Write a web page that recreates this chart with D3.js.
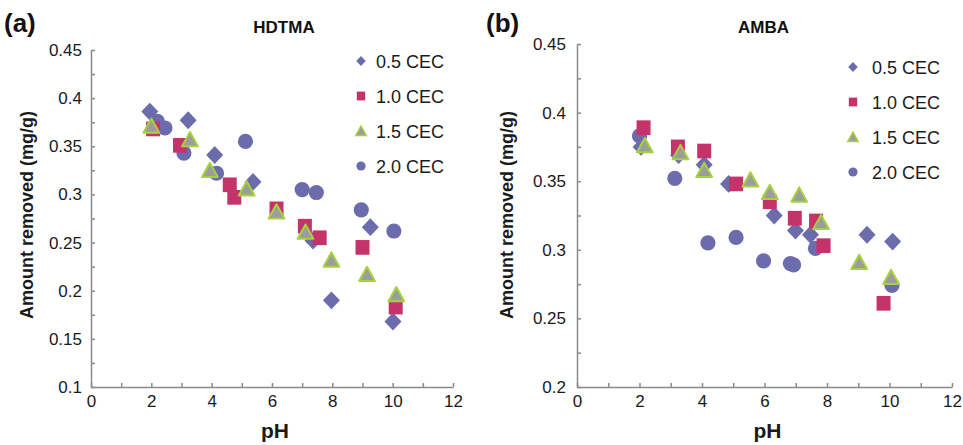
<!DOCTYPE html>
<head>
  <meta charset="utf-8">
  <script src="https://d3js.org/d3.v7.min.js"></script>
  <style>
    body { margin: 0; background: #ffffff; }
    svg { display: block; font-family: "Liberation Sans", Arial, sans-serif; }
    .axis path, .axis line { stroke: #8a8a8a; stroke-width: 1.5; }
    .axis text { fill: #1a1a1a; font-size: 17px; font-family: "Liberation Sans", Arial, sans-serif; }
    .legend text { fill: #1a1a1a; font-size: 18px; }
  </style>
</head>

<body>
<script>
  // séries : [pH, quantité retirée (mg/g)]
  var series = ["0.5 CEC", "1.0 CEC", "1.5 CEC", "2.0 CEC"];

  var hdtma05 = [[1.95,0.386],[3.22,0.377],[4.1,0.341],[5.37,0.313],[7.36,0.252],[7.97,0.19],[9.26,0.266],[10.01,0.168]];
  var hdtma10 = [[2.06,0.368],[2.95,0.351],[4.6,0.31],[4.75,0.297],[6.15,0.285],[7.09,0.267],[7.58,0.255],[9.0,0.245],[10.1,0.183]];
  var hdtma15 = [[2.0,0.371],[3.28,0.357],[3.94,0.325],[5.16,0.306],[6.15,0.282],[7.11,0.261],[7.97,0.232],[9.15,0.217],[10.12,0.196]];
  var hdtma20 = [[2.2,0.376],[2.45,0.369],[3.08,0.343],[4.16,0.322],[5.12,0.355],[7.0,0.305],[7.47,0.302],[8.96,0.284],[10.04,0.262]];

  var amba05 = [[2.05,0.375],[3.25,0.369],[4.07,0.362],[4.85,0.348],[6.31,0.325],[6.99,0.314],[7.47,0.311],[9.28,0.311],[10.1,0.306]];
  var amba10 = [[2.13,0.389],[3.23,0.375],[4.07,0.372],[5.09,0.348],[6.17,0.335],[6.97,0.323],[7.65,0.321],[7.89,0.303],[9.81,0.261]];
  var amba15 = [[2.17,0.376],[3.31,0.371],[4.07,0.358],[5.55,0.351],[6.17,0.342],[7.11,0.34],[7.81,0.32],[9.03,0.291],[10.05,0.28]];
  var amba20 = [[2.0,0.383],[3.13,0.352],[4.19,0.305],[5.09,0.309],[5.97,0.292],[6.83,0.29],[6.93,0.289],[7.63,0.301],[10.08,0.274]];

  var xTicks = [0, 2, 4, 6, 8, 10, 12];
  var yTicksA = [0.1, 0.15, 0.2, 0.25, 0.3, 0.35, 0.4, 0.45];
  var yTicksB = [0.2, 0.25, 0.3, 0.35, 0.4, 0.45];

  var w = 963, h = 445;

  var svg = d3.select("body").append("svg")
    .attr("width", w)
    .attr("height", h);

  // symboles personnalisés (size = demi-largeur)
  var diamond = { draw: function(c, s) { c.moveTo(0, -s * 1.05); c.lineTo(s, 0); c.lineTo(0, s * 1.05); c.lineTo(-s, 0); c.closePath(); } };
  var square = { draw: function(c, s) { c.rect(-s, -s * 1.05, 2 * s, 2.1 * s); } };
  var triangle = { draw: function(c, s) { c.moveTo(0, -s); c.lineTo(s * 1.05, s * 0.9); c.lineTo(-s * 1.05, s * 0.9); c.closePath(); } };
  var circle = { draw: function(c, s) { c.moveTo(s, 0); c.arc(0, 0, s, 0, 2 * Math.PI); } };

  var styles = [
    { type: diamond, fill: "#6c6cad", stroke: "none", sw: 0, size: 8.5, lsize: 4.8 },
    { type: square, fill: "#c5336b", stroke: "none", sw: 0, size: 7, lsize: 4.2 },
    { type: triangle, fill: "#9c9c9c", stroke: "#a6d23c", sw: 2, size: 7.5, lsize: 5 },
    { type: circle, fill: "#6c6cad", stroke: "none", sw: 0, size: 7.6, lsize: 4.6 }
  ];
  var drawOrder = [0, 3, 1, 2];

  var panels = [
    { label: "(a)", labelX: 4, title: "HDTMA", left: 91, right: 453, top: 50, bottom: 387,
      yTicks: yTicksA, yPad: 9, data: [hdtma05, hdtma10, hdtma15, hdtma20],
      ylabX: 33, legX: 361, legTextX: 376, legY: [61, 96, 131, 166] },
    { label: "(b)", labelX: 486, title: "AMBA", left: 577, right: 952, top: 44, bottom: 387,
      yTicks: yTicksB, yPad: 11, data: [amba05, amba10, amba15, amba20],
      ylabX: 513, legX: 853, legTextX: 872, legY: [67, 102, 137, 172] }
  ];

  panels.forEach(function(p) {
    var x = d3.scaleLinear().domain([0, 12]).range([p.left, p.right]);
    var y = d3.scaleLinear().domain([p.yTicks[0], p.yTicks[p.yTicks.length - 1]]).range([p.bottom, p.top]);

    // graduations mineures
    var yMinor = [];
    p.yTicks.forEach(function(t, i) {
      yMinor.push(t);
      if (i < p.yTicks.length - 1) yMinor.push((t + p.yTicks[i + 1]) / 2);
    });
    var xMinor = d3.range(0, 13);

    svg.append("g")
      .attr("class", "axis")
      .attr("transform", "translate(0," + p.bottom + ")")
      .call(d3.axisBottom(x).tickValues(xMinor).tickSizeInner(-4).tickSizeOuter(0).tickPadding(8)
        .tickFormat(function(d) { return xTicks.indexOf(d) !== -1 ? d : ""; }));

    svg.append("g")
      .attr("class", "axis")
      .attr("transform", "translate(" + p.left + ",0)")
      .call(d3.axisLeft(y).tickValues(yMinor).tickSizeInner(-4).tickSizeOuter(0).tickPadding(p.yPad)
        .tickFormat(function(d) {
          var hit = p.yTicks.filter(function(t) { return Math.abs(t - d) < 1e-9; });
          return hit.length ? String(hit[0]) : "";
        }));

    svg.selectAll(".axis text").attr("font-size", null);

    // points
    drawOrder.forEach(function(k) {
      var st = styles[k];
      svg.append("g").selectAll("path")
        .data(p.data[k])
        .enter()
        .append("path")
        .attr("d", d3.symbol().type(st.type).size(st.size))
        .attr("transform", function(d) { return "translate(" + x(d[0]) + "," + y(d[1]) + ")"; })
        .style("fill", st.fill)
        .style("stroke", st.stroke)
        .style("stroke-width", st.sw)
        .style("stroke-linejoin", "round");
    });

    // légende
    var leg = svg.append("g").attr("class", "legend");
    series.forEach(function(name, k) {
      var st = styles[k];
      leg.append("path")
        .attr("d", d3.symbol().type(st.type).size(st.lsize))
        .attr("transform", "translate(" + p.legX + "," + p.legY[k] + ")")
        .style("fill", st.fill)
        .style("stroke", st.stroke)
        .style("stroke-width", st.sw > 0 ? 1.5 : 0);
      leg.append("text")
        .attr("x", p.legTextX)
        .attr("y", p.legY[k] + 7)
        .text(name);
    });

    // titres
    svg.append("text")
      .attr("x", p.labelX)
      .attr("y", 32)
      .style("font-size", "26px")
      .style("font-weight", "bold")
      .style("fill", "#111")
      .text(p.label);

    svg.append("text")
      .attr("x", (p.left + p.right) / 2 + (p === panels[0] ? 12 : -1))
      .attr("y", 33)
      .attr("text-anchor", "middle")
      .style("font-size", "17px")
      .style("font-weight", "bold")
      .style("fill", "#111")
      .text(p.title);

    svg.append("text")
      .attr("x", (p.left + p.right) / 2 + 3)
      .attr("y", 438)
      .attr("text-anchor", "middle")
      .style("font-size", "21px")
      .style("font-weight", "bold")
      .style("fill", "#1a1a1a")
      .text("pH");

    svg.append("text")
      .attr("transform", "translate(" + p.ylabX + "," + 215 + ") rotate(-90)")
      .attr("text-anchor", "middle")
      .style("font-size", "18px")
      .style("font-weight", "bold")
      .style("fill", "#1a1a1a")
      .text("Amount removed (mg/g)");
  });
</script>
</body>
